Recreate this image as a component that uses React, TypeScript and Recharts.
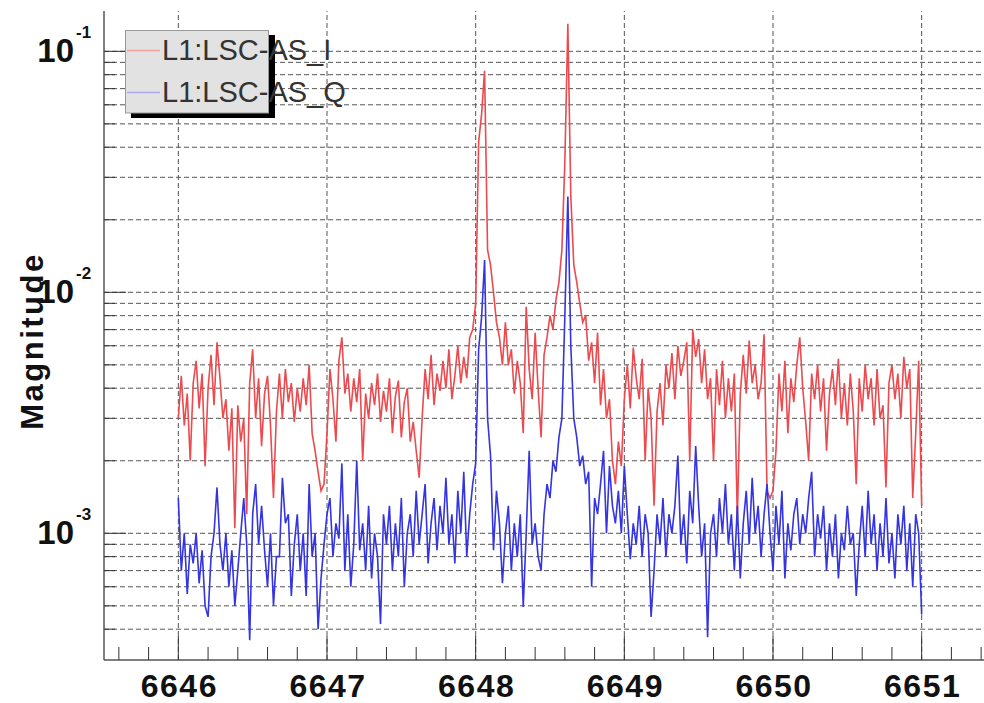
import React from 'react';
import { LineChart, Line, XAxis, YAxis, ReferenceLine } from 'recharts';

const F0 = 6646;
const DF = 0.02;

const AS_I = [
  3.0e-3, 4.5e-3, 2.8e-3, 3.8e-3, 2.0e-3, 4.2e-3, 5.2e-3, 3.3e-3, 4.6e-3, 1.9e-3,
  4.0e-3, 5.5e-3, 3.4e-3, 6.2e-3, 4.4e-3, 3.0e-3, 3.6e-3, 2.2e-3, 3.3e-3, 1.05e-3,
  3.4e-3, 2.4e-3, 3.0e-3, 1.2e-3, 4.2e-3, 5.8e-3, 3.0e-3, 4.4e-3, 2.3e-3, 3.8e-3,
  4.5e-3, 2.8e-3, 1.4e-3, 3.2e-3, 4.6e-3, 3.0e-3, 4.8e-3, 3.5e-3, 4.2e-3, 2.9e-3,
  4.0e-3, 3.2e-3, 4.4e-3, 3.4e-3, 5.0e-3, 2.6e-3, 2.2e-3, 1.8e-3, 1.5e-3, 1.6e-3,
  2.6e-3, 4.8e-3, 3.6e-3, 2.4e-3, 5.2e-3, 6.5e-3, 3.8e-3, 4.6e-3, 3.2e-3, 4.4e-3,
  3.5e-3, 4.8e-3, 2.0e-3, 3.8e-3, 3.0e-3, 4.2e-3, 3.4e-3, 4.6e-3, 2.9e-3, 3.9e-3,
  3.2e-3, 4.4e-3, 2.6e-3, 3.7e-3, 4.3e-3, 2.5e-3, 3.5e-3, 4.0e-3, 2.4e-3, 2.9e-3,
  2.2e-3, 1.7e-3, 3.0e-3, 4.8e-3, 3.6e-3, 5.5e-3, 3.4e-3, 4.6e-3, 3.9e-3, 5.2e-3,
  4.0e-3, 5.8e-3, 3.6e-3, 4.5e-3, 6.0e-3, 4.2e-3, 5.4e-3, 4.4e-3, 6.5e-3, 7.0e-3,
  9.0e-3, 4.2e-2, 5.5e-2, 8.3e-2, 1.5e-2, 1.3e-2, 1.0e-2, 7.5e-3, 6.5e-3, 5.0e-3,
  7.5e-3, 5.0e-3, 5.8e-3, 3.8e-3, 5.2e-3, 4.2e-3, 2.6e-3, 8.7e-3, 4.8e-3, 3.6e-3,
  6.8e-3, 4.0e-3, 2.5e-3, 5.5e-3, 6.5e-3, 8.0e-3, 7.0e-3, 9.3e-3, 1.1e-2, 1.5e-2,
  3.5e-2, 1.3e-1, 2.5e-2, 1.3e-2, 1.1e-2, 9.0e-3, 7.5e-3, 8.0e-3, 5.2e-3, 6.2e-3,
  4.2e-3, 6.8e-3, 3.4e-3, 4.8e-3, 3.0e-3, 3.6e-3, 2.0e-3, 1.6e-3, 2.4e-3, 1.9e-3,
  3.6e-3, 5.0e-3, 3.3e-3, 5.9e-3, 4.4e-3, 3.6e-3, 5.3e-3, 2.0e-3, 4.0e-3, 3.0e-3,
  1.3e-3, 3.2e-3, 4.2e-3, 2.8e-3, 5.0e-3, 4.0e-3, 5.6e-3, 3.6e-3, 6.0e-3, 4.5e-3,
  5.2e-3, 6.2e-3, 2.0e-3, 7.0e-3, 5.4e-3, 6.4e-3, 4.2e-3, 5.8e-3, 3.6e-3, 4.4e-3,
  2.0e-3, 4.8e-3, 3.4e-3, 5.2e-3, 3.0e-3, 4.4e-3, 3.2e-3, 4.6e-3, 1.15e-3, 3.8e-3,
  5.5e-3, 3.8e-3, 6.3e-3, 4.2e-3, 5.0e-3, 3.6e-3, 4.2e-3, 6.7e-3, 1.5e-3, 1.4e-3,
  1.5e-3, 2.2e-3, 4.6e-3, 3.2e-3, 5.2e-3, 2.6e-3, 4.4e-3, 3.5e-3, 5.0e-3, 6.5e-3,
  4.0e-3, 2.9e-3, 2.0e-3, 4.6e-3, 3.6e-3, 5.0e-3, 3.2e-3, 4.4e-3, 2.2e-3, 3.8e-3,
  4.8e-3, 3.4e-3, 5.3e-3, 3.0e-3, 4.2e-3, 2.8e-3, 4.6e-3, 3.2e-3, 1.6e-3, 4.4e-3,
  3.2e-3, 5.0e-3, 3.6e-3, 4.4e-3, 2.8e-3, 4.8e-3, 3.0e-3, 3.4e-3, 1.55e-3, 4.2e-3,
  5.0e-3, 3.6e-3, 4.6e-3, 3.0e-3, 5.4e-3, 4.0e-3, 4.8e-3, 1.4e-3, 2.6e-3, 5.2e-3,
  1.3e-3,
];

const AS_Q = [
  1.4e-3, 7.0e-4, 1.0e-3, 5.6e-4, 9.0e-4, 7.5e-4, 1.0e-3, 6.2e-4, 8.5e-4, 5.0e-4,
  4.5e-4, 8.0e-4, 1.0e-3, 1.55e-3, 9.0e-4, 7.0e-4, 1.0e-3, 6.0e-4, 8.5e-4, 5.0e-4,
  7.0e-4, 1.0e-3, 1.4e-3, 9.0e-4, 3.6e-4, 1.2e-3, 1.6e-3, 9.0e-4, 1.3e-3, 8.5e-4,
  6.0e-4, 1.0e-3, 5.0e-4, 8.0e-4, 8.0e-4, 1.7e-3, 1.1e-3, 1.2e-3, 5.5e-4, 9.0e-4,
  1.2e-3, 7.0e-4, 1.0e-3, 5.5e-4, 1.6e-3, 8.0e-4, 1.0e-3, 4.0e-4, 6.5e-4, 9.0e-4,
  1.2e-3, 1.4e-3, 8.0e-4, 1.1e-3, 9.5e-4, 1.95e-3, 7.0e-4, 1.2e-3, 6.0e-4, 9.0e-4,
  2.0e-3, 8.5e-4, 1.1e-3, 7.0e-4, 1.3e-3, 6.5e-4, 1.0e-3, 8.0e-4, 4.2e-4, 1.2e-3,
  9.0e-4, 1.3e-3, 7.0e-4, 1.1e-3, 8.0e-4, 1.4e-3, 6.0e-4, 1.0e-3, 1.2e-3, 8.0e-4,
  1.5e-3, 9.0e-4, 1.2e-3, 1.6e-3, 7.5e-4, 1.1e-3, 1.4e-3, 8.5e-4, 1.3e-3, 1.0e-3,
  1.7e-3, 9.0e-4, 1.2e-3, 7.5e-4, 1.5e-3, 1.0e-3, 1.8e-3, 8.0e-4, 1.2e-3, 1.6e-3,
  1.95e-3, 5.8e-3, 7.9e-3, 1.36e-2, 3.0e-3, 2.1e-3, 8.5e-4, 1.5e-3, 1.1e-3, 6.2e-4,
  1.0e-3, 1.3e-3, 7.0e-4, 1.1e-3, 8.0e-4, 1.2e-3, 4.95e-4, 1.0e-3, 2.2e-3, 9.0e-4,
  1.1e-3, 8.0e-4, 7.0e-4, 1.2e-3, 1.6e-3, 1.4e-3, 2.0e-3, 1.8e-3, 2.5e-3, 3.0e-3,
  8.0e-3, 2.5e-2, 6.0e-3, 3.0e-3, 2.5e-3, 1.9e-3, 2.1e-3, 1.6e-3, 1.8e-3, 6.0e-4,
  1.4e-3, 1.2e-3, 1.6e-3, 2.2e-3, 1.0e-3, 1.9e-3, 1.3e-3, 1.1e-3, 1.5e-3, 1.0e-3,
  1.9e-3, 1.2e-3, 7.8e-4, 1.1e-3, 9.0e-4, 1.3e-3, 8.0e-4, 1.2e-3, 1.0e-3, 4.5e-4,
  7.0e-4, 1.2e-3, 9.0e-4, 1.4e-3, 8.0e-4, 1.2e-3, 1.0e-3, 1.3e-3, 2.1e-3, 9.0e-4,
  1.2e-3, 7.5e-4, 1.5e-3, 1.1e-3, 2.3e-3, 1.3e-3, 8.0e-4, 1.1e-3, 3.7e-4, 1.0e-3,
  1.2e-3, 8.0e-4, 1.4e-3, 1.0e-3, 1.6e-3, 9.0e-4, 1.2e-3, 7.0e-4, 1.3e-3, 6.5e-4,
  1.1e-3, 1.5e-3, 9.0e-4, 1.7e-3, 1.0e-3, 1.3e-3, 8.0e-4, 1.2e-3, 1.6e-3, 1.0e-3,
  7.0e-4, 1.3e-3, 9.0e-4, 1.5e-3, 6.5e-4, 1.1e-3, 8.5e-4, 1.2e-3, 1.4e-3, 9.0e-4,
  1.2e-3, 1.0e-3, 1.4e-3, 1.8e-3, 8.0e-4, 1.2e-3, 9.5e-4, 1.3e-3, 7.0e-4, 1.1e-3,
  8.0e-4, 1.2e-3, 6.5e-4, 1.0e-3, 8.5e-4, 1.3e-3, 9.0e-4, 1.0e-3, 5.5e-4, 9.0e-4,
  1.3e-3, 8.0e-4, 1.5e-3, 9.0e-4, 1.2e-3, 7.0e-4, 1.1e-3, 8.0e-4, 1.4e-3, 7.5e-4,
  1.0e-3, 6.5e-4, 1.2e-3, 9.0e-4, 1.3e-3, 7.0e-4, 1.1e-3, 6.0e-4, 1.2e-3, 1.0e-3,
  4.6e-4,
];

const SERIES_NAMES = ['L1:LSC-AS_I', 'L1:LSC-AS_Q'];
const X_MAJOR = [6646, 6647, 6648, 6649, 6650, 6651];
const X_TICKS = [
  6645.6, 6645.8, 6646, 6646.2, 6646.4, 6646.6, 6646.8, 6647, 6647.2, 6647.4, 6647.6, 6647.8,
  6648, 6648.2, 6648.4, 6648.6, 6648.8, 6649, 6649.2, 6649.4, 6649.6, 6649.8, 6650, 6650.2,
  6650.4, 6650.6, 6650.8, 6651, 6651.2, 6651.4,
];
const Y_DECADES = [0.001, 0.01, 0.1];
const Y_DECADE_LABELS = ['-3', '-2', '-1'];
const Y_TICKS = [
  0.0004, 0.0005, 0.0006, 0.0007, 0.0008, 0.0009,
  0.001, 0.002, 0.003, 0.004, 0.005, 0.006, 0.007, 0.008, 0.009,
  0.01, 0.02, 0.03, 0.04, 0.05, 0.06, 0.07, 0.08, 0.09,
  0.1,
];

const data = AS_I.map((v, k) => ({ f: Number((F0 + k * DF).toFixed(2)), i: v, q: AS_Q[k] }));

const FONT = '"Liberation Sans", Arial, Helvetica, sans-serif';
const AXIS_COLOR = '#555';
const GRID_COLOR = '#555';

const XTickBottom = (props: any) => {
  const { x, y, payload } = props;
  const major = X_MAJOR.includes(payload.value);
  return (
    <g>
      <line x1={x} x2={x} y1={y} y2={y - (major ? 24 : 13)} stroke="#333" strokeWidth={1} />
      {major && (
        <text x={x + 1} y={y + 37} textAnchor="middle" fontFamily={FONT} fontWeight="bold" fontSize={32} letterSpacing={1.5} fill="#111">
          {payload.value}
        </text>
      )}
    </g>
  );
};

const XTickTop = (props: any) => {
  const { x, y, payload } = props;
  const major = X_MAJOR.includes(payload.value);
  return <line x1={x} x2={x} y1={y} y2={y + (major ? 24 : 13)} stroke="#333" strokeWidth={1} />;
};

const YTick = (props: any) => {
  const { x, y, payload } = props;
  const idx = Y_DECADES.indexOf(payload.value);
  const major = idx >= 0;
  return (
    <g>
      <line x1={x} x2={x + (major ? 22 : 11)} y1={y} y2={y} stroke="#333" strokeWidth={1} />
      {major && (
        <g>
          <text x={x - 30} y={y + 11} textAnchor="end" fontFamily={FONT} fontWeight="bold" fontSize={33} fill="#111">10</text>
          <text x={x - 28} y={y - 13} textAnchor="start" fontFamily={FONT} fontWeight="bold" fontSize={17} fill="#111">{Y_DECADE_LABELS[idx]}</text>
        </g>
      )}
    </g>
  );
};

export default function App() {
  return (
    <div style={{ position: 'absolute', left: 0, top: 0, width: 984, height: 703, overflow: 'hidden', background: '#fff' }}>
      <LineChart width={1010} height={703} data={data} margin={{ top: 11, right: 14, bottom: 0, left: 0 }}>
        <XAxis
          xAxisId="b" dataKey="f" type="number" domain={[6645.5, 6651.5]} allowDataOverflow
          ticks={X_TICKS} interval={0} tick={XTickBottom} tickLine={false} tickSize={0} tickMargin={0}
          height={43} axisLine={{ stroke: AXIS_COLOR, strokeWidth: 1.5 }}
        />
        <XAxis
          xAxisId="t" orientation="top" dataKey="f" type="number" domain={[6645.5, 6651.5]} allowDataOverflow
          ticks={X_TICKS} interval={0} tick={XTickTop} tickLine={false} tickSize={0} tickMargin={0}
          height={0} axisLine={{ stroke: AXIS_COLOR, strokeWidth: 1.5 }}
        />
        <YAxis
          yAxisId="l" scale="log" type="number" domain={[2.98e-4, 0.147]} allowDataOverflow
          ticks={Y_TICKS} interval={0} tick={YTick} tickLine={false} tickSize={0} tickMargin={0}
          width={104} axisLine={{ stroke: AXIS_COLOR, strokeWidth: 1.5 }}
        />
        {Y_TICKS.map((v) => (
          <ReferenceLine key={'gy' + v} xAxisId="b" yAxisId="l" y={v} stroke={GRID_COLOR} strokeDasharray="5 3" strokeWidth={1} />
        ))}
        {X_MAJOR.map((v) => (
          <ReferenceLine key={'gx' + v} xAxisId="b" yAxisId="l" x={v} stroke={GRID_COLOR} strokeDasharray="5 3" strokeWidth={1} />
        ))}
        <Line xAxisId="b" yAxisId="l" type="linear" dataKey="i" name={SERIES_NAMES[0]} stroke="#ec4a4e" strokeWidth={1.6} dot={false} isAnimationActive={false} />
        <Line xAxisId="b" yAxisId="l" type="linear" dataKey="q" name={SERIES_NAMES[1]} stroke="#3434e2" strokeWidth={1.6} dot={false} isAnimationActive={false} />
      </LineChart>
      <svg width={984} height={703} style={{ position: 'absolute', left: 0, top: 0, pointerEvents: 'none' }}>
        <text transform="translate(43,341) rotate(-90)" textAnchor="middle" fontFamily={FONT} fontWeight="bold" fontSize={31} letterSpacing={2.5} fill="#111">
          Magnitude
        </text>
        <rect x={131} y={35} width={144} height={83} fill="#000" />
        <rect x={125.5} y={30.5} width={143} height={82.5} fill="#e2e2e2" stroke="#999" strokeWidth={1} />
        <line x1={127} x2={160} y1={50.5} y2={50.5} stroke="#f0a0a0" strokeWidth={1.5} />
        <line x1={127} x2={160} y1={92.5} y2={92.5} stroke="#a8a8ec" strokeWidth={1.5} />
        <text x={162} y={60} fontFamily={FONT} fontSize={29} fill="#333">{SERIES_NAMES[0]}</text>
        <text x={162} y={102} fontFamily={FONT} fontSize={29} fill="#333">{SERIES_NAMES[1]}</text>
      </svg>
    </div>
  );
}
